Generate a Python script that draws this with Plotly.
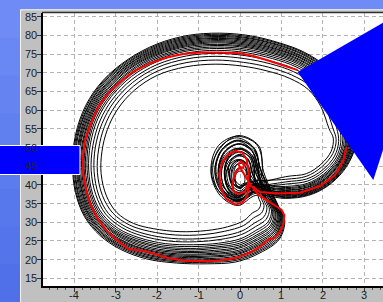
import plotly.graph_objects as go

W, H = 383, 302

# ---------------- data ----------------
x_tick_labels = [-4, -3, -2, -1, 0, 1, 2, 3]
y_tick_labels = [15, 20, 25, 30, 35, 40, 45, 50, 55, 60, 65, 70, 75, 80, 85]
x_range = [-4.76, 3.45]
y_range = [12.96, 86.07]

red_x = [1.39, 1.05, 0.64, 0.32, 0.00, -0.48, -0.96, -1.37, -1.77, -2.17, -2.57, -2.89, -3.18, -3.42, -3.60, -3.74, -3.79, -3.78, -3.71, -3.60, -3.44, -3.23, -2.97, -2.69, -2.61, -2.41, -2.13, -1.77, -1.37, -0.96, -0.48, -0.08, 0.24, 0.48, 0.68, 0.84, 0.96, 1.05, 1.07, 1.00, 0.84, 0.64, 0.44, 0.26, 0.12, 0.02, -0.04, 0.02, 0.10, 0.08, -0.02, -0.12, -0.18, -0.16, -0.04, 0.12, 0.20, 0.21, 0.16, 0.06, -0.10, -0.28, -0.43, -0.50, -0.47, -0.34, -0.12, 0.06, 0.18, 0.20, 0.32, 0.48, 0.88, 1.45, 1.93, 2.29, 2.49, 2.57]
red_y = [70.7, 72.0, 73.4, 74.5, 75.2, 75.4, 75.4, 75.0, 74.1, 72.5, 70.3, 67.6, 64.5, 60.9, 56.4, 52.0, 47.5, 43.0, 38.6, 34.6, 31.0, 27.9, 25.2, 22.9, 22.7, 22.5, 21.8, 20.5, 19.8, 19.6, 19.8, 20.5, 21.9, 23.4, 25.4, 25.9, 27.4, 29.6, 31.9, 33.4, 34.6, 35.9, 37.4, 39.9, 42.6, 44.4, 45.5, 46.3, 45.7, 44.6, 44.4, 43.0, 40.5, 38.4, 37.5, 38.1, 40.4, 43.5, 46.8, 48.6, 49.1, 48.2, 46.2, 43.0, 39.5, 36.3, 34.8, 35.2, 37.2, 39.9, 39.5, 38.1, 37.7, 37.9, 39.7, 42.6, 46.4, 50.2]

c01_x = [2.85, 2.60, 2.10, 1.55, 0.95, 0.25, -0.50, -1.25, -2.00, -2.70, -3.30, -3.72, -3.97, -4.04, -3.97, -3.75, -3.38, -2.89, -2.25, -1.53, -0.80, -0.10, 0.48, 0.95, 1.08, 0.95, 0.57, 0.45, -0.05, -0.48, -0.70, -0.48, -0.05, 0.38, 1.10, 1.65, 2.10, 2.50, 2.75, 2.85]
c01_y = [56.0, 65.5, 71.5, 75.5, 78.0, 79.9, 80.6, 80.0, 77.7, 73.6, 68.0, 61.3, 53.3, 45.3, 38.0, 31.5, 26.5, 22.8, 20.2, 19.1, 18.9, 19.4, 21.8, 25.5, 30.5, 33.8, 43.5, 50.5, 53.2, 49.8, 43.5, 37.2, 34.5, 37.2, 36.4, 37.2, 39.6, 43.8, 49.0, 56.0]

c02_x = [2.80, 2.55, 2.07, 1.53, 0.93, 0.24, -0.51, -1.25, -2.00, -2.69, -3.28, -3.68, -3.93, -3.99, -3.92, -3.70, -3.32, -2.83, -2.19, -1.48, -0.77, -0.09, 0.47, 0.92, 1.04, 0.92, 0.51, 0.34, -0.05, -0.44, -0.61, -0.44, -0.05, 0.34, 1.10, 1.65, 2.09, 2.48, 2.72, 2.80]
c02_y = [55.9, 65.2, 71.1, 75.0, 77.5, 79.3, 80.0, 79.4, 77.1, 73.0, 67.5, 60.8, 53.0, 45.1, 37.9, 31.6, 26.7, 23.2, 20.7, 19.7, 19.6, 20.2, 22.5, 26.1, 30.8, 34.0, 43.8, 49.5, 52.0, 49.5, 43.8, 38.1, 35.6, 38.1, 36.8, 37.6, 40.0, 44.2, 49.2, 55.9]

c03_x = [2.75, 2.51, 2.04, 1.50, 0.91, 0.22, -0.51, -1.26, -2.00, -2.68, -3.25, -3.65, -3.88, -3.94, -3.87, -3.64, -3.27, -2.78, -2.14, -1.43, -0.73, -0.07, 0.46, 0.88, 1.00, 0.88, 0.47, 0.32, -0.03, -0.38, -0.53, -0.38, -0.03, 0.32, 1.10, 1.64, 2.08, 2.46, 2.68, 2.75]
c03_y = [55.9, 64.9, 70.7, 74.5, 77.0, 78.8, 79.4, 78.8, 76.5, 72.4, 66.9, 60.4, 52.7, 45.0, 37.9, 31.7, 26.9, 23.6, 21.2, 20.3, 20.3, 21.0, 23.3, 26.6, 31.1, 34.2, 43.5, 48.7, 50.9, 48.7, 43.5, 38.3, 36.1, 38.3, 37.2, 38.0, 40.4, 44.5, 49.5, 55.9]

c04_x = [2.70, 2.46, 2.01, 1.48, 0.89, 0.21, -0.52, -1.26, -2.00, -2.67, -3.23, -3.61, -3.84, -3.90, -3.81, -3.59, -3.21, -2.72, -2.08, -1.38, -0.70, -0.06, 0.44, 0.85, 0.96, 0.85, 0.42, 0.29, -0.02, -0.33, -0.46, -0.33, -0.02, 0.29, 1.10, 1.64, 2.07, 2.44, 2.65, 2.70]
c04_y = [55.8, 64.6, 70.2, 74.0, 76.4, 78.2, 78.9, 78.2, 75.9, 71.9, 66.4, 59.9, 52.4, 44.8, 37.8, 31.7, 27.2, 24.0, 21.7, 20.9, 21.0, 21.7, 24.0, 27.2, 31.4, 34.4, 43.2, 47.8, 49.8, 47.8, 43.2, 38.6, 36.6, 38.6, 37.6, 38.4, 40.8, 44.9, 49.7, 55.8]

c05_x = [2.65, 2.42, 1.97, 1.45, 0.87, 0.19, -0.53, -1.26, -2.00, -2.66, -3.20, -3.57, -3.79, -3.85, -3.76, -3.53, -3.15, -2.67, -2.03, -1.33, -0.66, -0.04, 0.43, 0.81, 0.92, 0.81, 0.38, 0.27, 0.00, -0.27, -0.38, -0.27, 0.00, 0.27, 1.10, 1.64, 2.06, 2.42, 2.61, 2.65]
c05_y = [55.7, 64.2, 69.8, 73.5, 75.9, 77.6, 78.3, 77.6, 75.3, 71.3, 65.8, 59.5, 52.1, 44.7, 37.7, 31.8, 27.4, 24.3, 22.2, 21.5, 21.7, 22.5, 24.8, 27.7, 31.8, 34.6, 43.0, 47.1, 48.8, 47.1, 43.0, 38.9, 37.2, 38.9, 38.0, 38.8, 41.3, 45.3, 50.0, 55.7]

c06_x = [2.60, 2.37, 1.94, 1.42, 0.84, 0.18, -0.54, -1.27, -2.00, -2.65, -3.17, -3.53, -3.74, -3.79, -3.70, -3.47, -3.09, -2.60, -1.96, -1.27, -0.62, -0.03, 0.42, 0.77, 0.87, 0.77, 0.32, 0.22, 0.00, -0.22, -0.32, -0.22, 0.00, 0.22, 1.10, 1.63, 2.05, 2.39, 2.57, 2.60]
c06_y = [55.6, 63.9, 69.3, 73.0, 75.3, 77.0, 77.6, 77.0, 74.7, 70.6, 65.2, 59.0, 51.8, 44.5, 37.6, 31.9, 27.7, 24.8, 22.8, 22.2, 22.5, 23.4, 25.7, 28.4, 32.1, 34.8, 42.8, 46.3, 47.8, 46.3, 42.8, 39.3, 37.8, 39.3, 38.5, 39.3, 41.7, 45.7, 50.3, 55.6]

c07_x = [2.54, 2.31, 1.90, 1.39, 0.82, 0.16, -0.55, -1.27, -2.00, -2.63, -3.14, -3.49, -3.68, -3.73, -3.63, -3.40, -3.02, -2.53, -1.89, -1.20, -0.58, -0.01, 0.40, 0.73, 0.82, 0.73, 0.26, 0.18, 0.00, -0.18, -0.26, -0.18, 0.00, 0.18, 1.10, 1.63, 2.03, 2.37, 2.53, 2.54]
c07_y = [55.6, 63.5, 68.8, 72.4, 74.6, 76.3, 76.9, 76.2, 73.9, 69.9, 64.5, 58.4, 51.4, 44.3, 37.6, 32.0, 27.9, 25.3, 23.5, 23.0, 23.4, 24.4, 26.6, 29.1, 32.5, 35.0, 42.6, 45.5, 46.8, 45.5, 42.6, 39.7, 38.4, 39.7, 39.0, 39.8, 42.3, 46.1, 50.6, 55.6]

c08_x = [2.46, 2.24, 1.85, 1.35, 0.78, 0.14, -0.56, -1.28, -2.00, -2.62, -3.10, -3.43, -3.61, -3.65, -3.55, -3.31, -2.93, -2.44, -1.80, -1.12, -0.52, 0.01, 0.38, 0.67, 0.76, 0.67, 0.20, 0.14, 0.00, -0.14, -0.20, -0.14, 0.00, 0.14, 1.10, 1.62, 2.02, 2.33, 2.47, 2.46]
c08_y = [55.4, 63.0, 68.1, 71.6, 73.8, 75.4, 76.0, 75.3, 73.0, 69.0, 63.7, 57.7, 50.9, 44.0, 37.4, 32.1, 28.3, 25.9, 24.3, 24.0, 24.4, 25.6, 27.8, 30.0, 33.0, 35.3, 42.4, 44.8, 45.8, 44.8, 42.4, 40.0, 39.0, 40.0, 39.6, 40.4, 42.9, 46.7, 51.0, 55.4]

c09_x = [2.33, 2.11, 1.76, 1.29, 0.73, 0.10, -0.58, -1.29, -2.00, -2.59, -3.04, -3.33, -3.49, -3.52, -3.41, -3.17, -2.77, -2.29, -1.65, -0.98, -0.43, 0.05, 0.35, 0.58, 0.65, 0.58, 0.44, 0.30, -0.04, -0.38, -0.52, -0.38, -0.04, 0.30, 1.10, 1.61, 1.99, 2.28, 2.38, 2.33]
c09_y = [55.3, 62.1, 67.0, 70.3, 72.4, 73.8, 74.4, 73.7, 71.4, 67.4, 62.2, 56.4, 50.1, 43.6, 37.3, 32.3, 28.9, 26.9, 25.7, 25.6, 26.3, 27.7, 29.8, 31.5, 33.9, 35.8, 44.0, 48.9, 51.0, 48.9, 44.0, 39.1, 37.0, 39.1, 40.8, 41.6, 44.0, 47.7, 51.6, 55.3]

c10_x = [2.15, 1.95, 1.65, 1.20, 0.65, 0.05, -0.60, -1.30, -2.00, -2.55, -2.95, -3.20, -3.33, -3.35, -3.22, -2.97, -2.57, -2.09, -1.45, -0.80, -0.30, 0.10, 0.30, 0.45, 0.50, 0.45, 0.33, 0.23, -0.02, -0.27, -0.37, -0.27, -0.02, 0.23, 1.10, 1.60, 1.95, 2.20, 2.25, 2.15]
c10_y = [55.0, 61.0, 65.5, 68.5, 70.5, 71.8, 72.3, 71.6, 69.3, 65.3, 60.3, 54.8, 49.0, 43.0, 37.0, 32.6, 29.7, 28.3, 27.5, 27.8, 28.8, 30.5, 32.5, 33.5, 35.0, 36.5, 43.5, 47.4, 49.0, 47.4, 43.5, 39.6, 38.0, 39.6, 42.2, 43.0, 45.5, 49.0, 52.5, 55.0]

c11_x = [2.83, 2.58, 2.09, 1.54, 0.94, 0.25, -0.50, -1.25, -2.00, -2.70, -3.29, -3.70, -3.95, -4.02, -3.95, -3.73, -3.35, -2.86, -2.22, -1.51, -0.79, -0.10, 0.48, 0.94, 1.06, 0.94, 0.50, 0.33, -0.08, -0.49, -0.66, -0.49, -0.08, 0.33, 1.10, 1.65, 2.10, 2.49, 2.74, 2.83]
c11_y = [56.0, 65.4, 71.3, 75.3, 77.8, 79.6, 80.3, 79.7, 77.4, 73.3, 67.8, 61.1, 53.2, 45.2, 38.0, 31.6, 26.6, 23.0, 20.5, 19.4, 19.3, 19.8, 22.2, 25.8, 30.7, 33.9, 44.0, 50.0, 52.6, 50.0, 44.0, 38.0, 35.4, 38.0, 36.6, 37.4, 39.8, 44.0, 49.1, 56.0]

c12_x = [2.78, 2.53, 2.06, 1.52, 0.92, 0.23, -0.51, -1.26, -2.00, -2.69, -3.27, -3.67, -3.91, -3.97, -3.90, -3.67, -3.30, -2.81, -2.17, -1.46, -0.75, -0.08, 0.47, 0.90, 1.02, 0.90, 0.52, 0.36, 0.00, -0.36, -0.52, -0.36, 0.00, 0.36, 1.10, 1.65, 2.09, 2.47, 2.70, 2.78]
c12_y = [55.9, 65.1, 70.9, 74.8, 77.3, 79.1, 79.7, 79.1, 76.8, 72.7, 67.2, 60.6, 52.9, 45.1, 37.9, 31.7, 26.8, 23.4, 21.0, 20.0, 20.0, 20.6, 22.9, 26.4, 31.0, 34.1, 43.2, 48.7, 51.0, 48.7, 43.2, 37.7, 35.4, 37.7, 37.0, 37.8, 40.2, 44.4, 49.4, 55.9]

c13_x = [2.73, 2.49, 2.03, 1.49, 0.90, 0.22, -0.52, -1.26, -2.00, -2.68, -3.24, -3.63, -3.86, -3.92, -3.84, -3.62, -3.24, -2.75, -2.11, -1.41, -0.72, -0.07, 0.45, 0.87, 0.98, 0.87, 0.40, 0.26, -0.06, -0.38, -0.52, -0.38, -0.06, 0.26, 1.10, 1.64, 2.08, 2.45, 2.67, 2.73]
c13_y = [55.9, 64.8, 70.5, 74.3, 76.7, 78.5, 79.2, 78.5, 76.2, 72.2, 66.7, 60.2, 52.6, 44.9, 37.9, 31.7, 27.1, 23.8, 21.5, 20.6, 20.7, 21.4, 23.7, 26.9, 31.3, 34.3, 42.8, 47.7, 49.8, 47.7, 42.8, 37.9, 35.8, 37.9, 37.4, 38.2, 40.6, 44.7, 49.6, 55.9]

c14_x = [2.68, 2.44, 1.99, 1.47, 0.88, 0.20, -0.53, -1.26, -2.00, -2.67, -3.22, -3.59, -3.82, -3.88, -3.79, -3.56, -3.18, -2.70, -2.06, -1.36, -0.68, -0.05, 0.44, 0.83, 0.94, 0.83, 0.42, 0.30, 0.02, -0.26, -0.38, -0.26, 0.02, 0.30, 1.10, 1.64, 2.07, 2.43, 2.63, 2.68]
c14_y = [55.8, 64.4, 70.0, 73.8, 76.2, 77.9, 78.6, 77.9, 75.6, 71.6, 66.1, 59.7, 52.3, 44.8, 37.8, 31.8, 27.3, 24.2, 22.0, 21.2, 21.4, 22.1, 24.4, 27.5, 31.6, 34.5, 43.6, 47.9, 49.8, 47.9, 43.6, 39.3, 37.4, 39.3, 37.8, 38.6, 41.0, 45.1, 49.8, 55.8]

c15_x = [2.63, 2.40, 1.96, 1.44, 0.86, 0.19, -0.54, -1.27, -2.00, -2.66, -3.19, -3.55, -3.77, -3.82, -3.73, -3.50, -3.12, -2.64, -2.00, -1.30, -0.64, -0.04, 0.43, 0.79, 0.90, 0.79, 0.31, 0.21, -0.03, -0.27, -0.37, -0.27, -0.03, 0.21, 1.10, 1.64, 2.05, 2.40, 2.59, 2.63]
c15_y = [55.7, 64.1, 69.6, 73.3, 75.6, 77.3, 78.0, 77.3, 75.0, 71.0, 65.5, 59.3, 52.0, 44.6, 37.7, 31.9, 27.6, 24.6, 22.5, 21.9, 22.1, 23.0, 25.3, 28.1, 32.0, 34.7, 42.5, 46.3, 47.9, 46.3, 42.5, 38.7, 37.1, 38.7, 38.2, 39.0, 41.5, 45.5, 50.1, 55.7]

c16_x = [2.57, 2.34, 1.92, 1.41, 0.83, 0.17, -0.55, -1.27, -2.00, -2.64, -3.16, -3.51, -3.71, -3.76, -3.67, -3.44, -3.06, -2.57, -1.93, -1.24, -0.60, -0.02, 0.41, 0.75, 0.85, 0.75, 0.18, 0.13, 0.02, -0.09, -0.14, -0.09, 0.02, 0.13, 1.10, 1.63, 2.04, 2.38, 2.55, 2.57]
c16_y = [55.6, 63.7, 69.1, 72.7, 75.0, 76.7, 77.3, 76.6, 74.3, 70.3, 64.9, 58.7, 51.6, 44.4, 37.6, 32.0, 27.8, 25.1, 23.2, 22.6, 23.0, 23.9, 26.2, 28.8, 32.3, 34.9, 42.0, 44.0, 44.8, 44.0, 42.0, 40.0, 39.2, 40.0, 38.7, 39.5, 42.0, 45.9, 50.4, 55.6]

c17_x = [2.50, 2.28, 1.88, 1.37, 0.80, 0.15, -0.56, -1.28, -2.00, -2.63, -3.12, -3.46, -3.65, -3.69, -3.59, -3.36, -2.98, -2.49, -1.85, -1.16, -0.55, 0.00, 0.39, 0.70, 0.79, 0.70, 0.18, 0.11, -0.04, -0.19, -0.26, -0.19, -0.04, 0.11, 1.10, 1.63, 2.03, 2.35, 2.50, 2.50]
c17_y = [55.5, 63.3, 68.5, 72.0, 74.2, 75.9, 76.5, 75.8, 73.5, 69.5, 64.1, 58.1, 51.2, 44.2, 37.5, 32.1, 28.1, 25.6, 23.9, 23.5, 23.9, 25.0, 27.2, 29.6, 32.8, 35.2, 43.0, 45.5, 46.6, 45.5, 43.0, 40.5, 39.4, 40.5, 39.3, 40.1, 42.6, 46.4, 50.8, 55.5]

c18_x = [2.40, 2.18, 1.81, 1.32, 0.76, 0.12, -0.57, -1.29, -2.00, -2.61, -3.07, -3.38, -3.55, -3.59, -3.48, -3.24, -2.85, -2.37, -1.73, -1.05, -0.48, 0.03, 0.37, 0.63, 0.71, 0.63, 0.42, 0.27, -0.08, -0.43, -0.58, -0.43, -0.08, 0.27, 1.10, 1.62, 2.01, 2.31, 2.43, 2.40]
c18_y = [55.4, 62.6, 67.6, 71.0, 73.1, 74.6, 75.2, 74.5, 72.2, 68.2, 63.0, 57.1, 50.5, 43.8, 37.4, 32.2, 28.6, 26.4, 25.0, 24.8, 25.4, 26.7, 28.8, 30.8, 33.5, 35.6, 44.2, 49.5, 51.8, 49.5, 44.2, 38.9, 36.6, 38.9, 40.2, 41.0, 43.5, 47.2, 51.3, 55.4]

c19_x = [2.24, 2.03, 1.71, 1.25, 0.69, 0.08, -0.59, -1.30, -2.00, -2.57, -3.00, -3.27, -3.41, -3.44, -3.32, -3.07, -2.67, -2.19, -1.55, -0.89, -0.37, 0.08, 0.33, 0.52, 0.58, 0.52, 0.28, 0.20, 0.00, -0.20, -0.28, -0.20, 0.00, 0.20, 1.10, 1.60, 1.97, 2.24, 2.32, 2.24]
c19_y = [55.2, 61.6, 66.3, 69.4, 71.5, 72.8, 73.4, 72.7, 70.4, 66.4, 61.3, 55.6, 49.6, 43.3, 37.2, 32.5, 29.3, 27.6, 26.6, 26.7, 27.6, 29.1, 31.2, 32.5, 34.5, 36.2, 43.8, 46.9, 48.2, 46.9, 43.8, 40.7, 39.4, 40.7, 41.5, 42.3, 44.8, 48.4, 52.1, 55.2]

# extra circuits of the central spiral
core_a_x = [0.22, 0.18, 0.02, -0.16, -0.22, -0.16, 0.02, 0.18, 0.22]
core_a_y = [42.0, 45.2, 46.6, 45.2, 42.0, 38.8, 37.6, 38.8, 42.0]
core_b_x = [0.12, 0.08, 0.00, -0.08, -0.12, -0.08, 0.00, 0.08, 0.12]
core_b_y = [41.5, 43.1, 43.7, 43.1, 41.5, 39.9, 39.3, 39.9, 41.5]
core_c_x = [0.25, 0.16, -0.05, -0.26, -0.35, -0.26, -0.05, 0.16, 0.25]
core_c_y = [41.8, 45.3, 46.8, 45.3, 41.8, 38.3, 36.8, 38.3, 41.8]
core_d_x = [0.25, 0.19, 0.05, -0.09, -0.15, -0.09, 0.05, 0.19, 0.25]
core_d_y = [43.0, 45.2, 46.2, 45.2, 43.0, 40.8, 39.8, 40.8, 43.0]
core_e_x = [0.54, 0.40, -0.08, -0.52, -0.70, -0.52, -0.08, 0.36, 0.54]
core_e_y = [44.5, 50.8, 53.0, 50.5, 44.5, 38.5, 36.0, 38.5, 44.5]
core_f_x = [0.35, 0.27, 0.00, -0.30, -0.45, -0.32, -0.02, 0.26, 0.35]
core_f_y = [43.0, 47.6, 49.5, 47.6, 43.0, 38.2, 36.3, 38.0, 43.0]
core_g_x = [0.45, 0.36, -0.03, -0.42, -0.60, -0.43, -0.04, 0.33, 0.45]
core_g_y = [44.0, 49.6, 51.8, 49.4, 44.0, 38.4, 35.8, 38.2, 44.0]

# ---------------- figure ----------------
black_curves = [
    (c01_x, c01_y), (c02_x, c02_y), (c03_x, c03_y), (c04_x, c04_y), (c05_x, c05_y),
    (c06_x, c06_y), (c07_x, c07_y), (c08_x, c08_y), (c09_x, c09_y), (c10_x, c10_y),
    (c11_x, c11_y), (c12_x, c12_y), (c13_x, c13_y), (c14_x, c14_y), (c15_x, c15_y),
    (c16_x, c16_y), (c17_x, c17_y), (c18_x, c18_y), (c19_x, c19_y),
    (core_a_x, core_a_y), (core_b_x, core_b_y), (core_c_x, core_c_y),
    (core_d_x, core_d_y), (core_e_x, core_e_y), (core_f_x, core_f_y),
    (core_g_x, core_g_y),
]

fig = go.Figure()
for bx, by in black_curves:
    fig.add_trace(go.Scatter(
        x=bx, y=by, mode="lines",
        line=dict(color="black", width=1, shape="spline", smoothing=1.0),
        hoverinfo="skip", showlegend=False))
fig.add_trace(go.Scatter(
    x=red_x, y=red_y, mode="lines",
    line=dict(color="#ff0000", width=2),
    hoverinfo="skip", showlegend=False))


def px(v):
    return v / W


def py(v):
    return 1 - v / H


shapes = []
# blue gradient background (bands)
band_cols = ["#6f8cf6", "#6a88f4", "#6584f2", "#6080f0", "#5b7cee", "#5778ec", "#5374ea", "#4f70e8"]
nb = len(band_cols)
for i, col in enumerate(band_cols):
    shapes.append(dict(type="rect", xref="paper", yref="paper", layer="below",
                       x0=0, x1=1, y0=py((i + 1) * H / nb + 1), y1=py(i * H / nb),
                       fillcolor=col, line=dict(width=0)))
# gray panel
shapes.append(dict(type="rect", xref="paper", yref="paper", layer="below",
                   x0=px(20), x1=px(W + 5), y0=py(H + 5), y1=py(9.3),
                   fillcolor="#c0c0c0", line=dict(width=0)))
# bevel highlight
shapes.append(dict(type="path", xref="paper", yref="paper", layer="below",
                   path=f"M {px(20.5)},{py(H + 5)} L {px(20.5)},{py(9.8)} L {px(W + 5)},{py(9.8)}",
                   line=dict(color="#f4f4f4", width=1)))
# white plot area
shapes.append(dict(type="rect", xref="paper", yref="paper", layer="below",
                   x0=px(42.7), x1=px(W + 5), y0=py(286), y1=py(12.7),
                   fillcolor="#ffffff", line=dict(width=0)))
# top frame line
shapes.append(dict(type="line", xref="paper", yref="paper", layer="above",
                   x0=px(42), x1=px(W + 5), y0=py(12.5), y1=py(12.5),
                   line=dict(color="#303030", width=1.5)))
# left blue bar
shapes.append(dict(type="rect", xref="paper", yref="paper", layer="above",
                   x0=px(-3), x1=px(80), y0=py(174.5), y1=py(145.5),
                   fillcolor="#0000ff", line=dict(color="#ffffff", width=1)))
# big blue arrow head on the right
shapes.append(dict(type="path", xref="paper", yref="paper", layer="above",
                   path=(f"M {px(297.7)},{py(72)} L {px(433.7)},{py(-6.6)} "
                         f"L {px(373.3)},{py(180)} Z"),
                   fillcolor="#0000ff", line=dict(width=0)))

tick_font = dict(family="Liberation Sans, Arial, sans-serif", size=11, color="#202020")

# tick labels as annotations (placed like the reference)
annotations = []
for v in x_tick_labels:
    annotations.append(dict(x=v, xref="x", y=py(295), yref="paper", text=str(v),
                            showarrow=False, xanchor="center", yanchor="middle", font=tick_font))
for v in y_tick_labels:
    annotations.append(dict(x=px(38.5), xref="paper", y=v, yref="y", text=str(v),
                            showarrow=False, xanchor="right", yanchor="middle", font=tick_font))

fig.update_layout(
    width=W, height=H, autosize=False,
    margin=dict(l=0, r=0, t=0, b=0, pad=0),
    paper_bgcolor="#6584f2",
    plot_bgcolor="rgba(0,0,0,0)",
    shapes=shapes,
    annotations=annotations,
    showlegend=False,
    hovermode=False,
    xaxis=dict(
        domain=[42.7 / W, 1.0], range=x_range, tickmode="array", tickvals=x_tick_labels,
        showticklabels=False,
        ticks="outside", ticklen=4, tickwidth=1, tickcolor="#333333",
        showline=True, linecolor="black", linewidth=2,
        showgrid=True, gridcolor="#b4b4b4", gridwidth=1, griddash="4px,3px",
        zeroline=False, automargin=False,
        minor=dict(dtick=0.2, tick0=0, ticks="outside", ticklen=2, tickcolor="#555555", showgrid=False),
    ),
    yaxis=dict(
        domain=[1 - 286 / H, 1 - 12.7 / H], range=y_range, tickmode="array", tickvals=y_tick_labels,
        showticklabels=False,
        ticks="outside", ticklen=4, tickwidth=1, tickcolor="#333333",
        showline=True, linecolor="black", linewidth=2,
        showgrid=True, gridcolor="#b4b4b4", gridwidth=1, griddash="4px,3px",
        zeroline=False, automargin=False,
    ),
)

fig.write_html(
    "out.html",
    config={"displayModeBar": False, "staticPlot": True},
    post_script="document.body.style.margin='0';document.body.style.overflow='hidden';",
)
